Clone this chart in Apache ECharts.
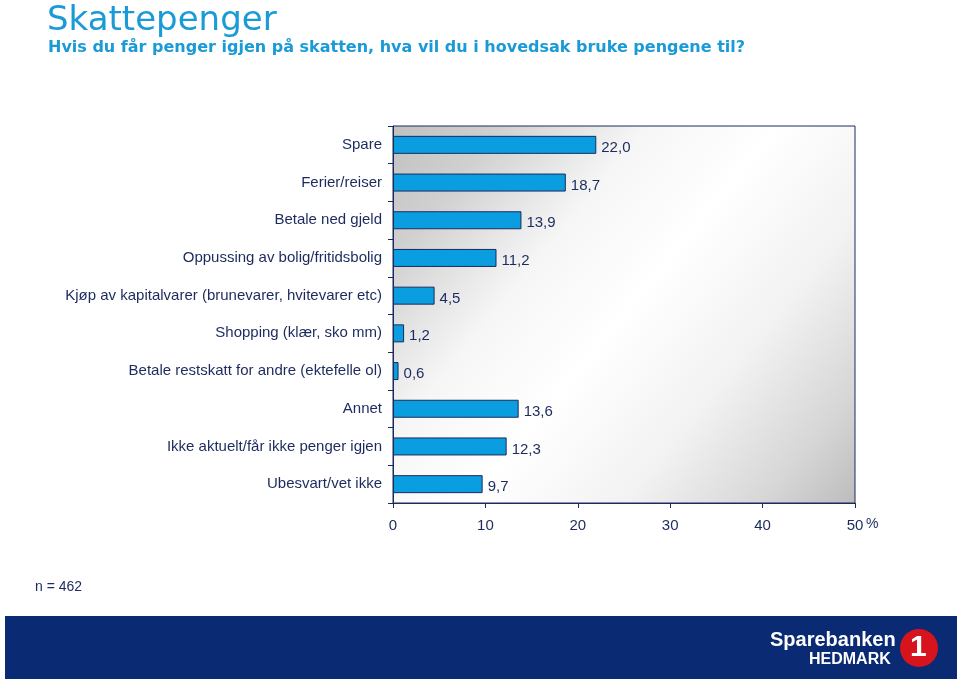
<!DOCTYPE html>
<html>
<head>
<meta charset="utf-8">
<script src="https://cdn.jsdelivr.net/npm/echarts@6/dist/echarts.min.js"></script>
<style>html,body{margin:0;padding:0;background:#fff;}#c{width:960px;height:681px;}</style>
</head>
<body>
<div id="c"></div>
<script>
var categories = ["Spare", "Ferier/reiser", "Betale ned gjeld", "Oppussing av bolig/fritidsbolig", "Kjøp av kapitalvarer (brunevarer, hvitevarer etc)", "Shopping (klær, sko mm)", "Betale restskatt for andre (ektefelle ol)", "Annet", "Ikke aktuelt/får ikke penger igjen", "Ubesvart/vet ikke"];
var values = [22.0, 18.7, 13.9, 11.2, 4.5, 1.2, 0.6, 13.6, 12.3, 9.7];
var xTicks = [0, 10, 20, 30, 40, 50];
var titleText = "Skattepenger";
var subtitleText = "Hvis du får penger igjen på skatten, hva vil du i hovedsak bruke pengene til?";
var noteText = "n = 462";
var unitText = "%";

var navy = "#1c2a5e";
var chart = echarts.init(document.getElementById("c"), null, {renderer: "canvas"});
chart.setOption({
  animation: false,
  backgroundColor: "#ffffff",
  title: [{
    text: titleText, left: 47, top: 4, padding: 0,
    textStyle: {fontFamily: "DejaVu Sans", fontSize: 34, fontWeight: "normal", color: "#1a9ad6"}
  }, {
    text: subtitleText, left: 48, top: 40, padding: 0,
    textStyle: {fontFamily: "DejaVu Sans", fontSize: 16, fontWeight: "bold", color: "#1a9ad6"}
  }, {
    text: noteText, left: 35, top: 580, padding: 0,
    textStyle: {fontFamily: "Liberation Sans", fontSize: 14, fontWeight: "normal", color: navy}
  }],
  grid: {
    left: 393, right: 105, top: 126, bottom: 178,
    show: true, borderColor: navy, borderWidth: 1,
    backgroundColor: {
      type: "linear", x: 0, y: 0, x2: 1, y2: 1,
      colorStops: [
        {offset: 0, color: "#c0c0c0"},
        {offset: 0.14, color: "#d0d0d0"},
        {offset: 0.33, color: "#f6f6f6"},
        {offset: 0.5, color: "#ffffff"},
        {offset: 0.7, color: "#f2f2f2"},
        {offset: 0.88, color: "#d6d6d6"},
        {offset: 1, color: "#bcbcbc"}
      ]
    }
  },
  xAxis: {
    type: "value", min: 0, max: 50, interval: 10,
    axisLine: {show: true, lineStyle: {color: navy, width: 1}},
    axisTick: {show: true, length: 5, lineStyle: {color: navy}},
    splitLine: {show: false},
    axisLabel: {
      margin: 15, fontFamily: "Liberation Sans", fontSize: 15, color: navy,
      formatter: function (v) { return xTicks.indexOf(v) >= 0 ? String(v) : ""; }
    }
  },
  yAxis: {
    type: "category", data: categories, inverse: true,
    axisLine: {show: true, lineStyle: {color: navy, width: 1}},
    axisTick: {show: true, length: 5, lineStyle: {color: navy}},
    axisLabel: {margin: 11, fontFamily: "Liberation Sans", fontSize: 15, color: navy}
  },
  series: [{
    type: "bar", data: values, barWidth: 18,
    itemStyle: {color: "#0a9ee0", borderColor: navy, borderWidth: 1},
    label: {
      show: true, position: "right", distance: 5, offset: [0, 3],
      fontFamily: "Liberation Sans", fontSize: 15, color: navy,
      formatter: function (p) { return p.value.toFixed(1).replace(".", ","); }
    }
  }]
});

var endPt = chart.convertToPixel({xAxisIndex: 0, yAxisIndex: 0}, [xTicks[xTicks.length - 1], categories[categories.length - 1]]);
var axisBottom = chart.getHeight() - 178;
chart.setOption({
  graphic: [
    {type: "text", x: endPt[0] + 11, y: axisBottom + 21, style: {text: unitText, fill: navy, font: "14px 'Liberation Sans'", verticalAlign: "middle"}},
    {type: "rect", left: 5, top: 616, shape: {width: 952, height: 63}, style: {fill: "#0a2a73"}},
    {type: "text", left: 770, top: 630, style: {text: "Sparebanken", fill: "#ffffff", font: "bold 20px 'Liberation Sans'"}},
    {type: "text", left: 809, top: 652, style: {text: "HEDMARK", fill: "#ffffff", font: "bold 16px 'Liberation Sans'"}},
    {type: "circle", shape: {cx: 919, cy: 648, r: 19}, style: {fill: "#d7131d"}},
    {type: "text", left: 910, top: 633, style: {text: "1", fill: "#ffffff", font: "bold 30px 'Liberation Sans'"}}
  ]
});
</script>
</body>
</html>
